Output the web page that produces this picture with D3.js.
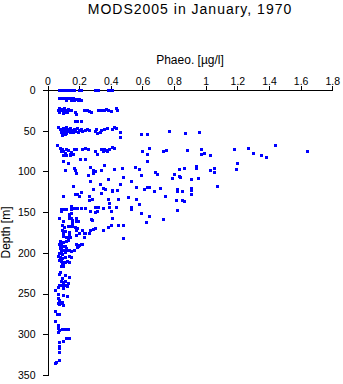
<!DOCTYPE html>
<html>
<head>
<meta charset="utf-8">
<script src="https://cdn.jsdelivr.net/npm/d3@7"></script>
<style>
  html, body { margin: 0; padding: 0; background: #fff; }
  svg { display: block; }
  text { font-family: "Liberation Sans", Arial, Helvetica, sans-serif; fill: #000; }
</style>
</head>
<body>
<svg id="chart" width="343" height="384"></svg>
<script>
// Phaeopigment profiles, [phaeo (µg/l), depth (m)], grouped by depth band
const surfaceBand = [
  [0.07,0],[0.085,0],[0.10,0],[0.115,0],[0.13,0],[0.15,0],[0.165,0],[0.20,0],[0.21,0],
  [0.30,0],[0.32,0],[0.38,0],[0.395,0],[0.41,0],
  [0.07,10],[0.085,10],[0.10,10],[0.115,10],[0.13,10],[0.145,10],[0.16,10],[0.18,11],[0.20,11],
  [0.12,12],[0.15,12],[0.165,12.5],[0.19,12],[0.21,12]
];
const band25 = [
  [0.065,24],[0.075,22],[0.085,25],[0.09,23],[0.10,26],[0.105,22],[0.115,24],[0.125,27],[0.13,23],
  [0.14,25],[0.15,24],[0.075,27],[0.095,28],[0.11,27],[0.175,27],[0.18,29],[0.23,24],[0.25,25],
  [0.265,26],[0.275,27],[0.32,24],[0.335,25],[0.355,25],[0.37,23],[0.385,25],[0.40,26],[0.43,22],[0.44,24],
  [0.175,37.5],[0.185,38],[0.21,38.5]
];
const band50 = [
  [0.065,45],[0.08,48],[0.085,52],[0.09,50],[0.095,47],[0.10,54],[0.105,49],[0.11,51],[0.115,46],
  [0.12,53],[0.125,48],[0.13,50],[0.14,52],[0.145,47],[0.15,49],[0.16,51],[0.165,48],[0.175,50],
  [0.185,47],[0.19,52],[0.20,49],[0.21,48],[0.22,50],[0.235,49],[0.25,48],[0.265,49],[0.30,50],
  [0.31,53],[0.305,48],[0.33,52],[0.34,49],[0.36,48],[0.375,47],[0.41,48],[0.42,46],[0.435,47],
  [0.46,52],[0.46,58],[0.09,55],[0.11,54],
  [0.59,54],[0.63,54],[0.77,50.7],[0.87,52.8],[0.96,52]
];
const band75 = [
  [0.063,67],[0.08,71],[0.09,73],[0.10,75],[0.11,77],[0.12,72],[0.13,74],[0.14,78],[0.15,76],
  [0.165,72],[0.18,73],[0.22,72],[0.24,71],[0.255,73],[0.30,75],[0.31,79],[0.34,73],[0.355,72],
  [0.37,74],[0.39,73],[0.41,70.5],[0.42,71.6],[0.35,75],[0.375,75],[0.086,75],[0.10,80],
  [0.12,80],[0.14,80],[0.16,79],
  [0.60,74.5],[0.64,70.8],[0.63,79],[0.63,87.6],[0.73,75.3],[0.75,73.7],[0.88,73.7],[0.97,72.9],
  [0.99,77.8],[0.97,79],[1.03,80.2],[1.18,72.9],[1.27,71.6],[1.30,77.8],[1.35,79.4],[1.38,81.9],
  [1.44,68],[1.64,75.3]
];
const band100 = [
  [0.24,84.5],[0.10,87],[0.132,90],[0.206,85],[0.11,98],[0.165,96],[0.175,98],[0.18,102],
  [0.27,95],[0.285,98],[0.285,102],[0.30,100],[0.34,98.6],[0.36,92.5],[0.42,97],[0.47,96],
  [0.255,104.4],[0.48,106.4],[0.38,108.9],[0.27,111.4],[0.33,115.5],[0.46,115.8],[0.53,112],
  [0.55,95],[0.58,97.4],[0.59,104.8],[0.68,100.3],[0.69,103],[0.79,108.5],[0.80,103.6],
  [0.83,97.4],[0.86,96.2],[0.83,105.6],[0.84,106.8],[0.94,93],[0.94,95.4],[0.91,109.7],
  [0.95,108.5],[1.03,98.6],[1.05,96.2],[1.05,101],[1.20,90],[1.19,97.4]
];
const band125 = [
  [0.16,118],[0.175,127.7],[0.20,130],[0.21,125.6],[0.26,129.8],[0.26,135],[0.28,134.2],
  [0.29,122],[0.34,126],[0.35,120],[0.365,122],[0.41,122.8],[0.41,123.7],[0.44,122.8],
  [0.385,134],[0.39,138.4],[0.445,134],[0.51,132],[0.095,130],[0.185,128],[1.07,118],
  [0.56,119.5],[0.61,122],[0.63,119.5],[0.64,119.5],[0.67,124.4],[0.71,120.7],[0.74,130.5],
  [0.82,122],[0.82,124.4],[0.85,124.4],[0.91,120],[0.91,122.4],[0.91,127.3],[0.56,133.5],
  [0.81,135.5],[0.85,135.5],[0.86,136.7]
];
const band150 = [
  [0.53,143.7],[0.53,146.5],[0.58,140.4],[0.82,147.7],[0.59,151.4],[0.64,154.4],[0.73,158.8],
  [0.62,162.5],[0.43,144],[0.40,148.6],[0.39,144],[0.35,144.5],[0.086,146.5],[0.086,148.6],
  [0.10,146.5],[0.115,146.5],[0.15,142.5],[0.15,146.5],[0.15,150.7],[0.137,152.3],[0.17,145.3],
  [0.185,145.3],[0.21,145.3],[0.24,145.3],[0.27,148.6],[0.30,149.5],[0.315,148.6],[0.30,144],
  [0.32,144],[0.275,158.8],[0.07,157.6],[0.137,154.3],[0.137,157.6],[0.18,156.8],
  [0.15,156.8],[0.10,161],[0.18,161],[0.19,161],[0.28,160],[0.41,156.8],[0.153,160],[0.153,163]
];
const band175 = [
  [0.09,166],[0.107,168],[0.128,167],[0.137,167],[0.157,167],[0.175,168],[0.185,170],[0.29,170.7],
  [0.30,169],[0.385,168],[0.35,172],[0.40,166],[0.445,166],[0.48,166],[0.09,172],[0.11,173],
  [0.137,174],[0.10,176],[0.18,172],[0.20,175],[0.215,172],[0.24,176],[0.265,175],[0.27,172],
  [0.10,179],[0.115,181],[0.128,180],[0.137,178.5],[0.115,186],[0.132,184],[0.143,180.5],
  [0.18,178],[0.233,176],[0.233,181],[0.48,181.4]
];
const band200 = [
  [0.08,186],[0.086,188],[0.10,187],[0.075,189],[0.08,191],[0.078,194],[0.086,194],[0.10,192],
  [0.11,192],[0.12,194],[0.10,196],[0.086,198],[0.075,200],[0.09,201],[0.11,199],[0.12,197],
  [0.137,196],[0.18,189.5],[0.195,191],[0.21,189],[0.187,193],[0.17,196],[0.15,197.7],
  [0.20,190],[0.22,189],
  [0.065,204],[0.08,205],[0.094,206],[0.11,205],[0.137,204],[0.15,205],[0.075,209],[0.086,210],
  [0.094,211],[0.10,213],[0.11,211],[0.125,210],[0.094,214],[0.10,216],[0.086,216],[0.137,211],
  [0.08,224],[0.07,226],[0.11,227],[0.137,230],[0.09,231],[0.086,235],[0.10,236],[0.11,235],
  [0.075,239],[0.09,240],[0.11,240],[0.125,241],[0.065,242],[0.10,243],[0.13,237]
];
const deepBand = [
  [0.048,245.6],[0.065,251],[0.10,252],[0.122,253],[0.065,256],[0.07,258],[0.08,260],[0.068,262],
  [0.075,263],[0.086,262],[0.094,260],[0.10,264],[0.048,272],[0.06,275],[0.07,275],[0.048,284],
  [0.065,289],[0.065,292],[0.07,295],[0.065,297],[0.094,293],[0.10,294],[0.11,294],[0.132,293],
  [0.115,304],[0.137,305],[0.07,310],[0.10,308],[0.07,314],[0.07,317],[0.07,322],[0.07,331.6],
  [0.055,334],[0.05,335]
];

const phaeoTicks = [0, 0.2, 0.4, 0.6, 0.8, 1, 1.2, 1.4, 1.6, 1.8];
const depthTicks = [0, 50, 100, 150, 200, 250, 300, 350];

const allPoints = [].concat(surfaceBand, band25, band50, band75, band100,
                            band125, band150, band175, band200, deepBand);

const svg = d3.select("#chart");

const x = d3.scaleLinear().domain([0, 1.8]).range([47.5, 332.3]);
const y = d3.scaleLinear().domain([0, 350]).range([90, 375]);

// Title and axis labels
svg.append("text")
  .attr("x", 190).attr("y", 14)
  .attr("text-anchor", "middle")
  .style("font-size", "14px")
  .style("letter-spacing", "1px")
  .text("MODS2005 in January, 1970");

svg.append("text")
  .attr("x", 190).attr("y", 64)
  .attr("text-anchor", "middle")
  .style("font-size", "12px")
  .text("Phaeo. [µg/l]");

svg.append("text")
  .attr("transform", "translate(10," + ((90 + 375) / 2) + ") rotate(-90)")
  .attr("text-anchor", "middle")
  .style("font-size", "12px")
  .text("Depth [m]");

// Axes
const xAxis = d3.axisTop(x)
  .tickValues(phaeoTicks)
  .tickFormat(d3.format("~g"))
  .tickSize(4.5)
  .tickSizeOuter(0)
  .tickPadding(1);

const yAxis = d3.axisLeft(y)
  .tickValues(depthTicks)
  .tickSize(5)
  .tickSizeOuter(0)
  .tickPadding(7);

const gx = svg.append("g").attr("transform", "translate(0,90)").call(xAxis);
const gy = svg.append("g").attr("transform", "translate(47.5,0)").call(yAxis);

[gx, gy].forEach(g => {
  g.selectAll("text")
    .style("font-family", '"Liberation Sans", Arial, Helvetica, sans-serif')
    .style("font-size", "10.5px")
    .attr("fill", "#000");
  g.selectAll("line, path").attr("stroke", "#000").attr("shape-rendering", "crispEdges");
});

// Sample markers
svg.append("g")
  .selectAll("rect")
  .data(allPoints)
  .join("rect")
  .attr("x", d => Math.round(x(d[0])) - 1.5)
  .attr("y", d => Math.round(y(d[1])) - 1.5)
  .attr("width", 3)
  .attr("height", 3)
  .attr("fill", "#0000ff")
  .attr("shape-rendering", "crispEdges");
</script>
</body>
</html>
